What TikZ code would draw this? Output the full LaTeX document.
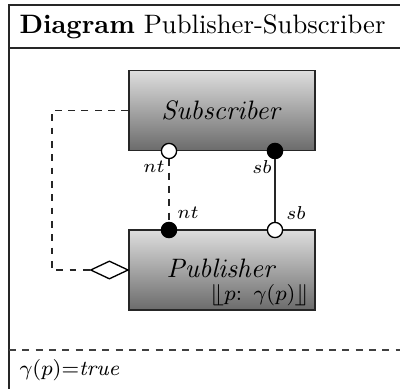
\documentclass[tikz,border=0pt]{standalone}
\usepackage{stmaryrd}
\usetikzlibrary{shapes.geometric}
\begin{document}
\begin{tikzpicture}[x=0.375pt,y=-0.375pt,
  frameline/.style={draw=black!85,line width=0.5pt},
  compbox/.style={draw=black!85,line width=0.5pt,rectangle,top color=black!13,bottom color=black!58,
    minimum width=69.75pt,minimum height=30pt,inner sep=0pt},
  portin/.style={circle,draw=black,fill=white,line width=0.5pt,minimum size=5.7pt,inner sep=0pt},
  portout/.style={circle,draw=black,fill=black,line width=0.5pt,minimum size=5.7pt,inner sep=0pt},
  portlabel/.style={font=\scriptsize,inner sep=0pt},
  conn/.style={draw=black!85,line width=0.45pt},
  dashconn/.style={conn,dash pattern=on 2.6pt off 2.4pt},
  agg/.style={diamond,draw=black,fill=white,line width=0.5pt,aspect=2.1,inner sep=0pt,
    minimum width=14.2pt,minimum height=6.8pt}]
  \useasboundingbox (0,0) rectangle (400,389);
  % frame with title compartment
  \draw[frameline] (402,5) -- (9,5) -- (9,391);
  \draw[frameline] (9,48) -- (402,48);
  \node[anchor=west,inner sep=0pt] (title) at (19,27) {\textbf{Diagram} Publisher-Subscriber};
  % constraint compartment
  \draw[dashconn,draw=black!75] (9,350) -- (402,350);
  \node[anchor=west,inner sep=0pt,font=\footnotesize] (constraint) at (19,370) {$\gamma(p)\mathord{=}\mathit{true}$};
  % components
  \node[compbox] (sub) at (222,110.5) {$\mathit{Subscriber}$};
  \node[compbox] (pub) at (222,270) {};
  \node[inner sep=0pt] (publabel) at (222,268) {$\mathit{Publisher}$};
  \node[inner sep=0pt,font=\footnotesize] (pubguard) at (260,295) {$\llfloor p\colon\ \gamma(p)\rrfloor$};
  % ports
  \node[portin] (subnt) at (169,151) {};
  \node[portout] (subsb) at (275,151) {};
  \node[portout] (pubnt) at (169,230) {};
  \node[portin] (pubsb) at (275,230) {};
  \node[portlabel] (lsubnt) at (154,167) {$nt$};
  \node[portlabel] (lsubsb) at (262,167) {$sb$};
  \node[portlabel] (lpubnt) at (188,213) {$nt$};
  \node[portlabel] (lpubsb) at (296,213) {$sb$};
  % connectors
  \draw[dashconn] (subnt) -- (pubnt);
  \draw[conn] (subsb) -- (pubsb);
  \node[agg,anchor=east] (dia) at (129,270) {};
  \coordinate (c1) at (52,110.5);
  \coordinate (c2) at (52,270);
  \draw[dashconn] (sub.west) -- (c1) -- (c2) -- (dia.west);
\end{tikzpicture}
\end{document}
